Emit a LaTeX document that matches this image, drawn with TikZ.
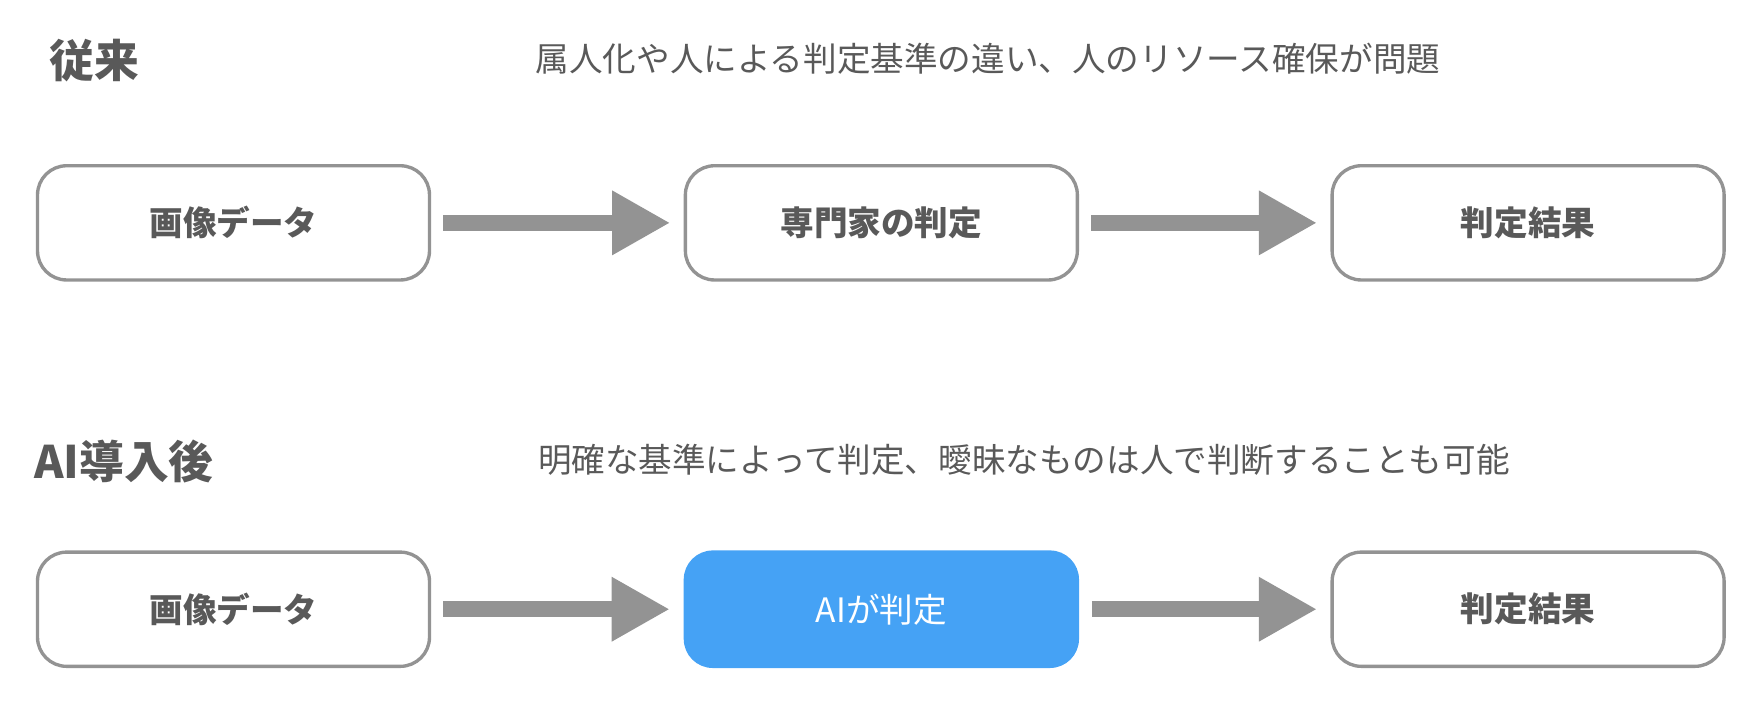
\documentclass[tikz,border=0pt]{standalone}
\usepackage{fontspec}
\setmainfont{Noto Sans CJK JP}
\usetikzlibrary{arrows.meta}
\definecolor{tx}{HTML}{595959}
\definecolor{bd}{HTML}{939393}
\definecolor{ai}{HTML}{45A2F5}
\begin{document}
\begin{tikzpicture}[x=0.5pt,y=-0.5pt,
 box/.style={draw=bd,line width=1.5pt,rounded corners=13pt,minimum width=175pt,minimum height=51pt,inner sep=0pt,font=\fontsize{15}{18}\selectfont\bfseries,text=tx},
 aibox/.style={fill=ai,draw=none,rounded corners=13pt,minimum width=176.5pt,minimum height=52.5pt,inner sep=0pt,font=\fontsize{15}{18}\selectfont,text=white},
 title/.style={anchor=west,font=\fontsize{20}{24}\selectfont\bfseries,text=tx,inner sep=0pt},
 sub/.style={anchor=west,font=\fontsize{15}{18}\selectfont,text=tx,inner sep=0pt},
 arr/.style={draw=bd,line width=7pt,-{Triangle[width=27pt,length=26pt]},shorten <=5.5pt,shorten >=6pt}]
\useasboundingbox (0,0) rectangle (1568,630);
\node[title] (t1) at (44,54) {従来};
\node[sub] (s1) at (478,52) {属人化や人による判定基準の違い、人のリソース確保が問題};
\node[box] (a1) at (208.5,199) {画像データ};
\node[box] (a2) at (787,199) {専門家の判定};
\node[box] (a3) at (1364.5,199) {判定結果};
\draw[arr] (a1) -- (a2);
\draw[arr] (a2) -- (a3);
\node[title] (t2) at (30,412) {AI導入後};
\node[sub] (s2) at (480,411) {明確な基準によって判定、曖昧なものは人で判断することも可能};
\node[box] (b1) at (208.5,544) {画像データ};
\node[aibox] (b2) at (787,544) {AIが判定};
\node[box] (b3) at (1364.5,544) {判定結果};
\draw[arr] (b1) -- (b2);
\draw[arr] (b2) -- (b3);
\end{tikzpicture}
\end{document}
